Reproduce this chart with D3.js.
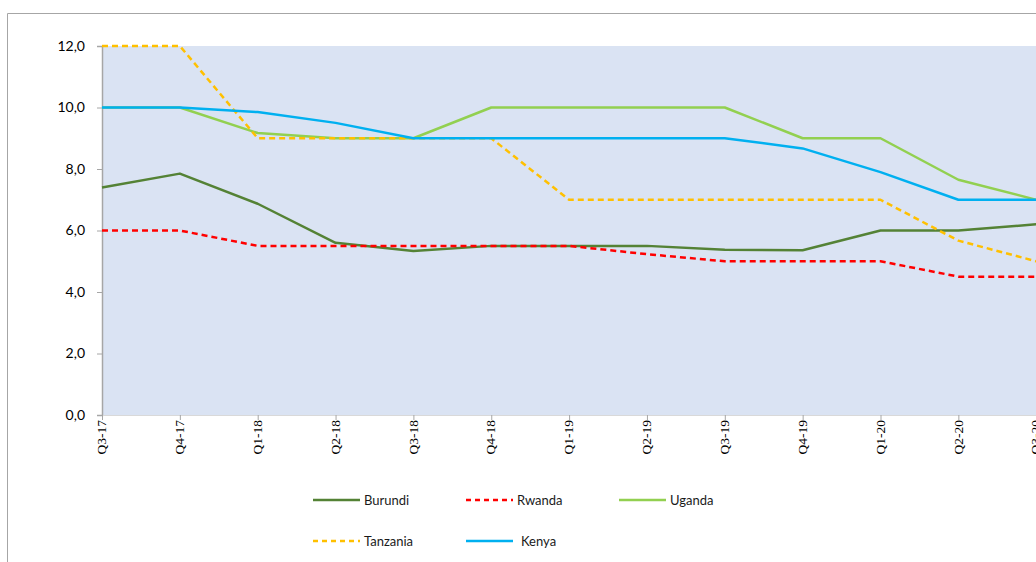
<!DOCTYPE html>
<html>
<head>
<meta charset="utf-8">
<script src="https://cdn.jsdelivr.net/npm/d3@7"></script>
<style>
  body { margin: 0; background: #fff; }
  svg { display: block; }
</style>
</head>
<body>
<script>
// quarters on the x axis
const quarters = ["Q3-17", "Q4-17", "Q1-18", "Q2-18", "Q3-18", "Q4-18", "Q1-19", "Q2-19", "Q3-19", "Q4-19", "Q1-20", "Q2-20", "Q3-20"];
const yTicks = [0, 2, 4, 6, 8, 10, 12];

// series values
const burundi  = [7.4, 7.85, 6.87, 5.6, 5.33, 5.5, 5.5, 5.5, 5.37, 5.36, 6.0, 6.0, 6.2];
const rwanda   = [6.0, 6.0, 5.5, 5.5, 5.5, 5.5, 5.5, 5.23, 5.0, 5.0, 5.0, 4.5, 4.5];
const uganda   = [10.0, 10.0, 9.17, 9.0, 9.0, 10.0, 10.0, 10.0, 10.0, 9.0, 9.0, 7.65, 7.0];
const tanzania = [12.0, 12.0, 9.0, 9.0, 9.0, 9.0, 7.0, 7.0, 7.0, 7.0, 7.0, 5.67, 5.0];
const kenya    = [10.0, 10.0, 9.85, 9.5, 9.0, 9.0, 9.0, 9.0, 9.0, 8.67, 7.9, 7.0, 7.0];

const series = [
    { name: "Burundi",  values: burundi,  color: "#548235", dash: null },
    { name: "Rwanda",   values: rwanda,   color: "#FF0000", dash: "6,4" },
    { name: "Uganda",   values: uganda,   color: "#92D050", dash: null },
    { name: "Tanzania", values: tanzania, color: "#FFC000", dash: "6,4" },
    { name: "Kenya",    values: kenya,    color: "#00B0F0", dash: null }
];

let w = 1036;
let h = 562;
const plotLeft = 102, plotTop = 46, plotBottom = 415;

const xScale = d3.scalePoint()
    .domain(quarters)
    .range([plotLeft, plotLeft + 77.85 * 12]);

const yScale = d3.scaleLinear()
    .domain([0, 12])
    .range([plotBottom, plotTop]);

const svg = d3.select('body')
    .append('svg')
    .attr('width', w)
    .attr('height', h);

// chart frame
svg.append('path')
    .attr('d', `M7.5,${h} L7.5,13.5 L${w + 10},13.5`)
    .attr('fill', 'none')
    .attr('stroke', '#a6a6a6')
    .attr('stroke-width', 1);

// plot area
svg.append('rect')
    .attr('x', plotLeft)
    .attr('y', plotTop)
    .attr('width', w + 20 - plotLeft)
    .attr('height', plotBottom - plotTop)
    .attr('fill', '#dae3f3');

// y axis
const yAxis = d3.axisLeft(yScale)
    .tickValues(yTicks)
    .tickSize(5)
    .tickPadding(12)
    .tickFormat(d => d3.format('.1f')(d).replace('.', ','));
const gy = svg.append('g')
    .attr('transform', `translate(${plotLeft}, 0)`)
    .call(yAxis);
gy.select('.domain').attr('stroke', '#a6a6a6').attr('stroke-width', 1.5);
gy.selectAll('.tick line').attr('stroke', '#a6a6a6');
gy.selectAll('.tick text')
    .attr('fill', '#000')
    .style('font-family', 'Lato, "Open Sans", sans-serif')
    .style('font-size', '14px');

// x axis
const xAxis = d3.axisBottom(xScale).tickSize(5).tickSizeOuter(0);
const gx = svg.append('g')
    .attr('transform', `translate(0, ${plotBottom})`)
    .call(xAxis);
gx.select('.domain').attr('stroke', '#d9d9d9');
gx.selectAll('.tick line').attr('stroke', '#a6a6a6');
gx.selectAll('.tick text')
    .attr('fill', '#000')
    .attr('transform', 'rotate(-90)')
    .attr('text-anchor', 'end')
    .attr('x', -5)
    .attr('y', -1)
    .attr('dy', '0.35em')
    .style('font-family', '"Liberation Serif", "Times New Roman", serif')
    .style('font-size', '13.5px');

// lines
const line = d3.line()
    .x((d, i) => xScale(quarters[i]))
    .y(d => yScale(d));

svg.selectAll('path.series')
    .data(series)
    .enter()
    .append('path')
    .attr('class', 'series')
    .attr('d', d => line(d.values))
    .attr('fill', 'none')
    .attr('stroke', d => d.color)
    .attr('stroke-width', 2.5)
    .attr('stroke-dasharray', d => d.dash)
    .attr('stroke-linejoin', 'round');

// legend
const legendPos = [[313, 500], [466, 500], [619, 500], [313, 541], [466, 541]];
const legend = svg.append('g')
    .selectAll('g')
    .data(series)
    .enter()
    .append('g')
    .attr('transform', (d, i) => `translate(${legendPos[i][0]}, ${legendPos[i][1]})`);

legend.append('line')
    .attr('x1', 0)
    .attr('x2', 47)
    .attr('stroke', d => d.color)
    .attr('stroke-width', 2.5)
    .attr('stroke-dasharray', d => d.dash ? '5,4' : null);

legend.append('text')
    .attr('x', (d, i) => i === 4 ? 55 : 51)
    .attr('dy', '0.35em')
    .style('font-family', 'Lato, "Open Sans", sans-serif')
    .style('font-size', '13px')
    .attr('fill', '#1a1a1a')
    .text(d => d.name);
</script>
</body>
</html>
